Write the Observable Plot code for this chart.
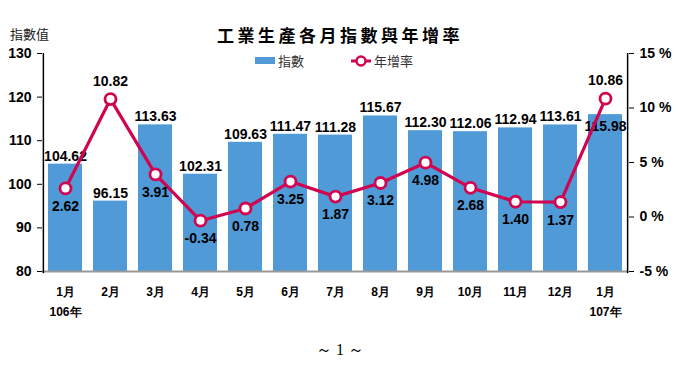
<!DOCTYPE html>
<html>
<head>
<meta charset="utf-8">
<script src="https://cdn.jsdelivr.net/npm/d3@7"></script>
<script src="https://cdn.jsdelivr.net/npm/@observablehq/plot@0.6"></script>
<style>
  html, body { margin: 0; padding: 0; background: #fff; }
  #wrap { position: relative; width: 680px; height: 383px; overflow: hidden; }
  .ov { position: absolute; white-space: nowrap; color: #000; }
  #title { left: 0; width: 680px; top: 22px; text-align: center; font: 700 17px "Noto Sans CJK TC", sans-serif; letter-spacing: 3.5px; }
  #yl { left: 10px; top: 24px; font: 400 13px "Noto Sans CJK TC", sans-serif; color: #222; }
  #leg { left: 255px; top: 51px; font: 400 13px "Noto Sans CJK TC", sans-serif; color: #333; display: flex; align-items: center; }
  #page { left: 0; width: 680px; top: 340px; text-align: center; font: 400 16px "Liberation Serif", serif; }
  svg { font-family: "Liberation Sans", Arial, sans-serif; }
</style>
</head>
<body>
<div id="wrap">
  <div id="chart"></div>
  <div id="title" class="ov">工業生產各月指數與年增率</div>
  <div id="yl" class="ov">指數值</div>
  <div id="leg" class="ov">
    <span style="display:inline-block;width:20px;height:7px;background:#509ad8;margin-right:3px"></span><span style="margin-right:46px">指數</span>
    <svg width="22" height="14" style="margin-right:2px"><line x1="1" y1="7" x2="21" y2="7" stroke="#d1044f" stroke-width="3"/><circle cx="11" cy="7" r="4.5" fill="#fff" stroke="#d1044f" stroke-width="2.5"/></svg><span>年增率</span>
  </div>
  <div id="page" class="ov">～ 1 ～</div>
</div>
<script>
const months = ["1月","2月","3月","4月","5月","6月","7月","8月","9月","10月","11月","12月","1月 "];
const indexValues = [104.62, 96.15, 113.63, 102.31, 109.63, 111.47, 111.28, 115.67, 112.30, 112.06, 112.94, 113.61, 115.98];
const growthRates = [2.62, 10.82, 3.91, -0.34, 0.78, 3.25, 1.87, 3.12, 4.98, 2.68, 1.40, 1.37, 10.86];
const yearLabels = [{m: "1月", t: "106年"}, {m: "1月 ", t: "107年"}];
const leftTicks = [80, 90, 100, 110, 120, 130];
const rightTicks = [-5, 0, 5, 10, 15];

const idxMin = 80, idxMax = 130, gMin = -5, gMax = 15;
const g2i = g => idxMin + (g - gMin) * (idxMax - idxMin) / (gMax - gMin);

const data = months.map((m, i) => ({m, v: indexValues[i], g: growthRates[i], gy: g2i(growthRates[i]), i}));
const last = data.length - 1;
const red = "#d1044f";
const lbl = {fontSize: 14, fontWeight: "bold", letterSpacing: "-1px"};

const W = 680, ML = 42, MR = 52, PI = 0.24, PO = 0.11;
const step = (W - ML - MR) / (months.length - PI + 2 * PO);
const edgeDx = PO * step + (1 - PI) * step / 2;

const chart = Plot.plot({
  width: W,
  height: 383,
  marginLeft: ML,
  marginRight: MR,
  marginTop: 53,
  marginBottom: 112,
  style: {fontSize: "13px", fontWeight: "bold", color: "#000", background: "transparent"},
  x: {domain: months, paddingInner: PI, paddingOuter: PO, label: null},
  y: {domain: [idxMin, idxMax], label: null},
  marks: [
    Plot.barY(data, {x: "m", y1: idxMin, y2: "v", fill: "#509ad8"}),
    Plot.ruleY([idxMin], {stroke: "#999", strokeWidth: 2}),
    Plot.axisY({ticks: leftTicks, tickSize: 5, tickPadding: 6, tickFormat: d => d, fontSize: 14, fontWeight: "bold", letterSpacing: "-0.8px", label: null}),
    Plot.ruleX([months[0]], {x: () => months[0], y1: idxMin - 0.5, y2: idxMax, dx: -edgeDx, stroke: "#000", strokeWidth: 1.5}),
    Plot.axisY({anchor: "right", ticks: rightTicks.map(g2i), tickSize: 5, tickPadding: 6, tickFormat: d => `${Math.round((d - idxMin) * (gMax - gMin) / (idxMax - idxMin) + gMin)} %`, fontSize: 14, fontWeight: "bold", letterSpacing: "-0.5px", label: null}),
    Plot.ruleX([months[last]], {x: () => months[last], y1: idxMin - 0.5, y2: idxMax, dx: edgeDx, stroke: "#000", strokeWidth: 1.5}),
    Plot.axisX({tickSize: 0, tickPadding: 16, fontSize: 12, fontWeight: "bold", label: null, tickFormat: d => d.trim()}),
    Plot.text(yearLabels, {x: "m", text: "t", frameAnchor: "bottom", dy: 44, fontSize: 12, fontWeight: "bold", letterSpacing: "-0.5px"}),
    Plot.text(data.filter(d => d.i !== last), {x: "m", y: "v", text: d => d.v.toFixed(2), dy: -8, ...lbl}),
    Plot.text(data.filter(d => d.i === last), {x: "m", y: "v", text: d => d.v.toFixed(2), dy: 12, ...lbl}),
    Plot.line(data, {x: "m", y: "gy", stroke: red, strokeWidth: 3.2}),
    Plot.dot(data, {x: "m", y: "gy", r: 5.5, fill: "#fff", stroke: red, strokeWidth: 2.8}),
    Plot.text(data.filter(d => d.g <= 8), {x: "m", y: "gy", text: d => d.g.toFixed(2), dy: 18, ...lbl}),
    Plot.text(data.filter(d => d.g > 8), {x: "m", y: "gy", text: d => d.g.toFixed(2), dy: -18, ...lbl})
  ]
});
document.getElementById("chart").appendChild(chart);
</script>
</body>
</html>
